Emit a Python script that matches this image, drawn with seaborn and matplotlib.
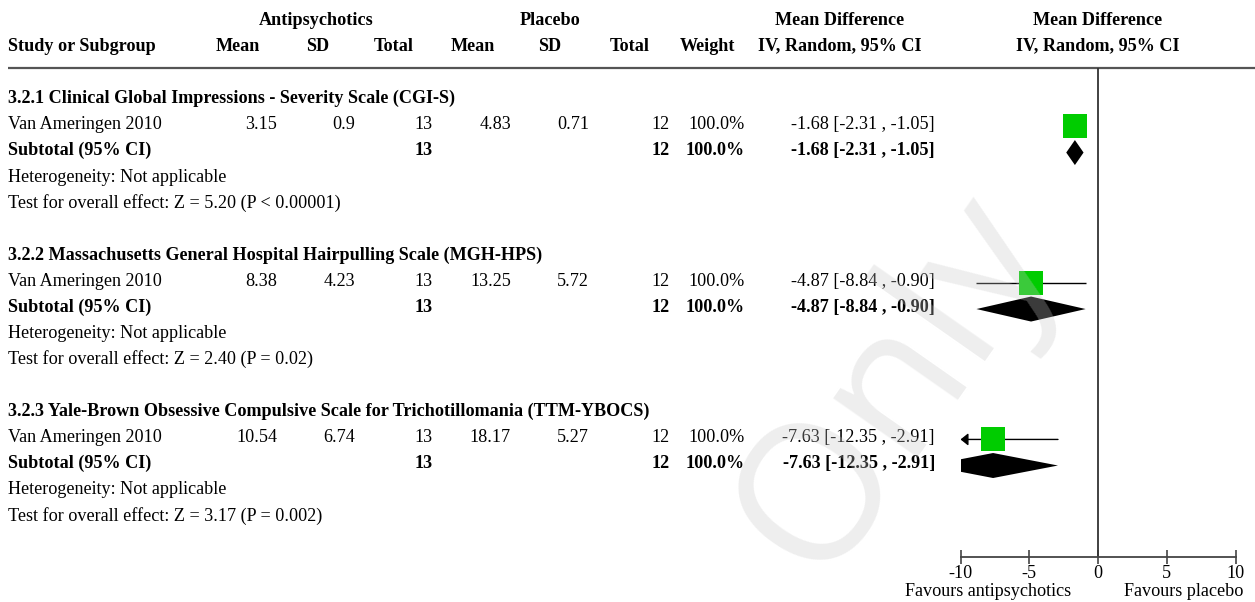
import matplotlib
matplotlib.use("Agg")
import matplotlib.pyplot as plt
import seaborn as sns
from matplotlib.patches import Polygon

# ---- data ----
groups = ["3.2.1 Clinical Global Impressions - Severity Scale (CGI-S)",
          "3.2.2 Massachusetts General Hospital Hairpulling Scale (MGH-HPS)",
          "3.2.3 Yale-Brown Obsessive Compulsive Scale for Trichotillomania (TTM-YBOCS)"]
studies = ["Van Ameringen 2010", "Van Ameringen 2010", "Van Ameringen 2010"]
anti_mean = ["3.15", "8.38", "10.54"]
anti_sd = ["0.9", "4.23", "6.74"]
anti_n = [13, 13, 13]
plac_mean = ["4.83", "13.25", "18.17"]
plac_sd = ["0.71", "5.72", "5.27"]
plac_n = [12, 12, 12]
weights = ["100.0%", "100.0%", "100.0%"]
md = [-1.68, -4.87, -7.63]
ci_lo = [-2.31, -8.84, -12.35]
ci_hi = [-1.05, -0.90, -2.91]
heterogeneity = ["Not applicable", "Not applicable", "Not applicable"]
overall = ["Z = 5.20 (P < 0.00001)", "Z = 2.40 (P = 0.02)", "Z = 3.17 (P = 0.002)"]
xticks = [-10, -5, 0, 5, 10]

sns.set_theme(style="white")
plt.rcParams['font.family'] = ['Liberation Serif', 'DejaVu Serif']
plt.rcParams['text.color'] = 'black'
plt.rcParams['axes.unicode_minus'] = False

W, H = 1255, 602
FS = 13.1
row0, step = 100.4, 26.08          # pixel row layout
ylim = ((H - row0) / step, -row0 / step)

fig = plt.figure(figsize=(W / 100, H / 100), dpi=100)
tab = fig.add_axes([0, 0, 1, 1])
tab.set_xlim(0, W)
tab.set_ylim(*ylim)
tab.axis('off')

fp = fig.add_axes([960.5 / W, 0, 275 / W, 1])
fp.set_xlim(-10, 10)
fp.set_ylim(*ylim)
fp.patch.set_alpha(0)


def put(x, row, s, ha='right', bold=False):
    tab.text(x, row + 0.11, s, ha=ha, va='baseline', fontsize=FS,
             fontweight='bold' if bold else 'normal')


# headers
hb = dict(ha='center', va='baseline', fontsize=FS, fontweight='bold')
tab.text(316, -2.91, "Antipsychotics", **hb)
tab.text(550, -2.91, "Placebo", **hb)
tab.text(840, -2.91, "Mean Difference", **hb)
tab.text(1098, -2.91, "Mean Difference", **hb)
tab.text(8, -1.91, "Study or Subgroup", **{**hb, 'ha': 'left'})
for x, s in [(238, "Mean"), (318, "SD"), (394, "Total"), (473, "Mean"),
             (550, "SD"), (630, "Total"), (707, "Weight"),
             (840, "IV, Random, 95% CI"), (1098, "IV, Random, 95% CI")]:
    tab.text(x, -1.91, s, **hb)
tab.hlines(-1.24, 8, W, color='#555555', lw=1.6)

cols = [277, 355, 433, 511, 589, 670, 745, 935]
h = 12.5 / step
for g in range(len(groups)):
    base = 6 * g
    ci_txt = f"{md[g]:.2f} [{ci_lo[g]:.2f} , {ci_hi[g]:.2f}]"
    put(8, base, groups[g], ha='left', bold=True)
    put(8, base + 1, studies[g], ha='left')
    for x, s in zip(cols, [anti_mean[g], anti_sd[g], anti_n[g], plac_mean[g],
                           plac_sd[g], plac_n[g], weights[g], ci_txt]):
        put(x, base + 1, str(s))
    put(8, base + 2, "Subtotal (95% CI)", ha='left', bold=True)
    for x, s in [(cols[2], anti_n[g]), (cols[5], plac_n[g]),
                 (cols[6], weights[g]), (cols[7], ci_txt)]:
        put(x, base + 2, str(s), bold=True)
    put(8, base + 3, "Heterogeneity: " + heterogeneity[g], ha='left')
    put(8, base + 4, "Test for overall effect: " + overall[g], ha='left')

    # study estimate
    r = base + 1
    if ci_lo[g] < -10:
        fp.annotate('', xy=(-10, r), xytext=(ci_hi[g], r), annotation_clip=False,
                    arrowprops=dict(arrowstyle='-|>,head_length=0.3,head_width=0.24',
                                    mutation_scale=15, lw=1, color='black',
                                    shrinkA=0, shrinkB=0))
    else:
        fp.hlines(r, ci_lo[g], ci_hi[g], color='black', lw=1, zorder=2)
    fp.plot([md[g]], [r], marker='s', ms=17.8, color='#00cc00', mew=0, zorder=3)

    # subtotal diamond
    r = base + 2
    fp.add_patch(Polygon([(ci_lo[g], r), (md[g], r - h), (ci_hi[g], r), (md[g], r + h)],
                         closed=True, facecolor='black', edgecolor='none'))

axis_row = (556.7 - row0) / step
fp.vlines(0, -1.24, axis_row, color='#333333', lw=1.3)
for s in ['top', 'left', 'right']:
    fp.spines[s].set_visible(False)
fp.spines['bottom'].set_position(('data', axis_row))
fp.spines['bottom'].set_color('#444444')
fp.spines['bottom'].set_linewidth(1.3)
fp.set_yticks([])
fp.set_xticks(xticks)
fp.set_xticklabels([str(t) for t in xticks])
fp.tick_params(axis='x', bottom=True, direction='inout', length=10, width=1.2,
               color='#444444', labelsize=FS, labelcolor='black', pad=1)
fp.text(-8.0, 19.02, "Favours antipsychotics", ha='center', va='baseline',
        fontsize=FS, clip_on=False)
fp.text(6.25, 19.02, "Favours placebo", ha='center', va='baseline',
        fontsize=FS, clip_on=False)

# faint watermark
fig.text(895 / W, 1 - 385 / H, "Only", rotation=55, ha='center', va='center',
         fontsize=138, family='Open Sans', color=(0.78, 0.78, 0.78), alpha=0.3,
         zorder=10)

fig.savefig("out.png", dpi=100)
